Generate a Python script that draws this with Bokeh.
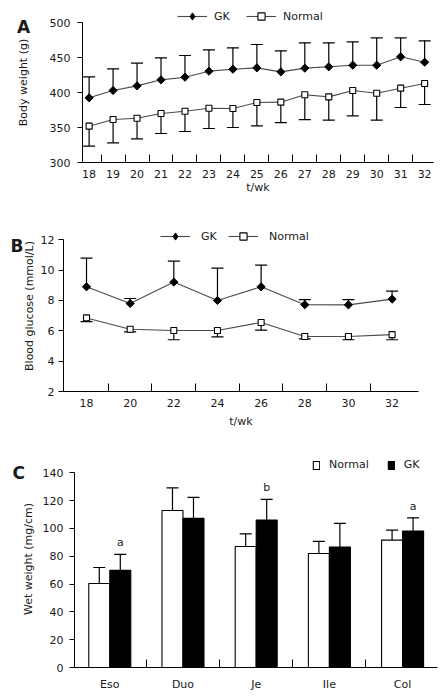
import numpy as np
from bokeh.plotting import figure
from bokeh.models import FixedTicker, Legend, LegendItem, Label, ColumnDataSource, Range1d
from bokeh.transform import dodge
from bokeh.core.properties import value
from bokeh.embed import file_html
from bokeh.resources import INLINE

FONT = "DejaVu Sans"
TXT = "#1a1a1a"
LINE = "#4a4a4a"

# ---------------- Data ----------------
# Panel A: body weight
weeks_a = [18, 19, 20, 21, 22, 23, 24, 25, 26, 27, 28, 29, 30, 31, 32]
gk_weight = [392.4, 402.9, 409.5, 418.1, 421.9, 430.5, 433.3, 435.2, 429.5, 434.8, 436.7, 439.0, 439.0, 451.0, 443.3]
gk_weight_sd = [30.0, 30.9, 32.4, 31.4, 31.0, 30.5, 30.5, 33.4, 30.0, 36.2, 34.3, 33.4, 39.1, 27.1, 30.5]
normal_weight = [351.9, 361.4, 363.3, 370.0, 373.3, 377.5, 377.1, 385.7, 386.2, 396.7, 393.8, 402.9, 399.0, 406.2, 412.9]
normal_weight_sd = [28.6, 33.3, 29.5, 28.6, 29.0, 28.9, 27.1, 33.3, 29.1, 35.3, 33.3, 36.2, 38.5, 27.6, 30.0]
weight_ticks = [300, 350, 400, 450, 500]

# Panel B: blood glucose
weeks_b = [18, 20, 22, 24, 26, 28, 30, 32]
gk_glucose = [8.90, 7.80, 9.21, 8.00, 8.90, 7.72, 7.71, 8.09]
gk_glucose_sd = [1.89, 0.33, 1.38, 2.13, 1.43, 0.33, 0.35, 0.53]
normal_glucose = [6.85, 6.10, 6.02, 6.02, 6.55, 5.62, 5.62, 5.75]
normal_glucose_sd = [0.25, 0.17, 0.61, 0.42, 0.50, 0.15, 0.21, 0.34]
glucose_ticks = [2, 4, 6, 8, 10, 12]

# Panel C: wet weight
segments = ["Eso", "Duo", "Je", "Ile", "Col"]
normal_wet = [60.4, 112.9, 87.0, 82.0, 91.6]
normal_wet_sd = [11.5, 16.3, 9.1, 8.6, 7.2]
gk_wet = [69.8, 107.2, 106.0, 86.6, 98.1]
gk_wet_sd = [11.5, 15.1, 14.8, 17.0, 9.5]
significance = ["a", "", "b", "", "a"]
wet_ticks = [0, 20, 40, 60, 80, 100, 120, 140]


def base_style(p):
    p.outline_line_color = None
    p.xgrid.grid_line_color = None
    p.ygrid.grid_line_color = None
    p.background_fill_color = "white"
    p.border_fill_color = "white"
    for ax in (p.xaxis[0], p.yaxis[0]):
        ax.axis_line_color = "black"
        ax.axis_line_width = 1
        ax.major_label_text_font = FONT
        ax.major_label_text_font_size = "11px"
        ax.major_label_text_color = TXT
        ax.axis_label_text_font = FONT
        ax.axis_label_text_font_size = "11px"
        ax.axis_label_text_font_style = "normal"
        ax.axis_label_text_color = TXT
    y = p.yaxis[0]
    y.major_tick_in = 0
    y.major_tick_out = 5
    y.major_tick_line_color = "black"
    y.minor_tick_line_color = None
    y.major_label_standoff = 6
    x = p.xaxis[0]
    x.major_tick_in = 0
    x.major_tick_out = 0
    x.major_tick_line_color = None
    x.minor_tick_in = 8
    x.minor_tick_out = 0
    x.minor_tick_line_color = "black"
    x.major_label_standoff = 7


def panel_letter(p, letter, x, y):
    # placed in the left side panel so it is not clipped to the plot frame
    p.add_layout(Label(x=x, y=y, text=letter,
                       text_font=FONT, text_font_size="17px", text_font_style="bold",
                       text_color=TXT, text_baseline="alphabetic", text_align="left"), "left")


def line_panel(p, xs, gk, gk_sd, nm, nm_sd, msize):
    xs = np.array(xs, dtype=float)
    gk = np.array(gk); gk_sd = np.array(gk_sd)
    nm = np.array(nm); nm_sd = np.array(nm_sd)
    # error bars (GK up, Normal down)
    p.segment(x0=xs, y0=gk, x1=xs, y1=gk + gk_sd, line_color="black", line_width=1.2)
    p.scatter(xs, gk + gk_sd, marker="dash", size=12, line_color="black", line_width=1.2)
    p.segment(x0=xs, y0=nm, x1=xs, y1=nm - nm_sd, line_color="black", line_width=1.2)
    p.scatter(xs, nm - nm_sd, marker="dash", size=12, line_color="black", line_width=1.2)
    gl = p.line(xs, gk, line_color=LINE, line_width=1.1)
    nl = p.line(xs, nm, line_color=LINE, line_width=1.1)
    p.scatter(xs, gk, marker="square", angle=np.pi / 4, size=msize,
              fill_color="black", line_color="black")
    nmk = p.scatter(xs, nm, marker="square", size=6, fill_color="white",
                    line_color="black", line_width=1.1)
    # legend-only diamond key (legend glyphs ignore marker rotation); draws nothing in the plot
    gleg = p.scatter(x=[np.nan], y=[np.nan], marker="diamond", fill_color="black", line_color="black")
    return gl, gleg, nl, nmk


def make_line_legend(loc, standoff, spacing, items):
    return Legend(items=items, location=loc, orientation="horizontal",
                  glyph_width=30, glyph_height=18, label_height=18,
                  label_standoff=standoff, spacing=spacing, padding=0, margin=0,
                  border_line_color=None, background_fill_alpha=0,
                  label_text_font=FONT, label_text_font_size="11px", label_text_color=TXT)


# ---------------- Panel A ----------------
pA = figure(width=448, height=200, x_range=Range1d(17.724, 32.37), y_range=Range1d(300, 528.6),
            output_backend="svg", toolbar_location=None,
            min_border_left=78, min_border_right=15, min_border_top=2, min_border_bottom=38)
base_style(pA)
gl, gm, nl, nmk = line_panel(pA, weeks_a, gk_weight, gk_weight_sd, normal_weight, normal_weight_sd, 5.8)
pA.yaxis.ticker = FixedTicker(ticks=weight_ticks)
pA.yaxis.bounds = (300, 500)
pA.yaxis.major_label_standoff = 7
pA.yaxis.axis_label = "Body weight (g)"
pA.yaxis.axis_label_standoff = 17
pA.xaxis.ticker = FixedTicker(ticks=weeks_a, minor_ticks=[w + 0.5 for w in weeks_a[:-1]])
pA.xaxis.axis_label = "t/wk"
pA.xaxis.axis_label_standoff = 0
pA.add_layout(make_line_legend((95, 137), 7, 12,
                               [LegendItem(label="GK", renderers=[gl, gm]),
                                LegendItem(label="Normal", renderers=[nl, nmk])]))
panel_letter(pA, "A", 14.99, 493.3)

# ---------------- Panel B ----------------
pB = figure(width=448, height=230, x_range=Range1d(16.946, 33.21), y_range=Range1d(2, 13.27),
            output_backend="svg", toolbar_location=None,
            min_border_left=63, min_border_right=30, min_border_top=20, min_border_bottom=39)
base_style(pB)
gl2, gm2, nl2, nmk2 = line_panel(pB, weeks_b, gk_glucose, gk_glucose_sd, normal_glucose, normal_glucose_sd, 5.8)
pB.yaxis.ticker = FixedTicker(ticks=glucose_ticks)
pB.yaxis.bounds = (2, 12)
pB.yaxis.major_label_standoff = 4
pB.yaxis.axis_label = "Blood glucose (mmol/L)"
pB.yaxis.axis_label_standoff = 2
pB.xaxis.ticker = FixedTicker(ticks=weeks_b, minor_ticks=[w + 1 for w in weeks_b[:-1]])
pB.xaxis.axis_label = "t/wk"
pB.xaxis.axis_label_standoff = 5
pB.add_layout(make_line_legend((97, 146), 11, 7,
                               [LegendItem(label="GK", renderers=[gl2, gm2]),
                                LegendItem(label="Normal", renderers=[nl2, nmk2])]))
panel_letter(pB, "B", 14.52, 11.62)

# ---------------- Panel C ----------------
idx = list(range(len(segments)))
src = ColumnDataSource(dict(
    x=idx, normal=normal_wet, gk=gk_wet,
    normal_top=[v + s for v, s in zip(normal_wet, normal_wet_sd)],
    gk_top=[v + s for v, s in zip(gk_wet, gk_wet_sd)],
    sig=significance,
))
BW = 0.287
OFF = BW / 2
pC = figure(width=448, height=268, x_range=Range1d(-0.482, 4.477), y_range=Range1d(0, 156),
            output_backend="svg", toolbar_location=None,
            min_border_left=74, min_border_right=11, min_border_top=20, min_border_bottom=31)
base_style(pC)
pC.segment(x0=dodge("x", -OFF), y0="normal", x1=dodge("x", -OFF), y1="normal_top", source=src,
           line_color="black", line_width=1.2)
pC.scatter(x=dodge("x", -OFF), y="normal_top", source=src, marker="dash", size=12,
           line_color="black", line_width=1.2)
pC.segment(x0=dodge("x", OFF), y0="gk", x1=dodge("x", OFF), y1="gk_top", source=src,
           line_color="black", line_width=1.2)
pC.scatter(x=dodge("x", OFF), y="gk_top", source=src, marker="dash", size=12,
           line_color="black", line_width=1.2)
vn = pC.vbar(x=dodge("x", -OFF), top="normal", width=BW, source=src,
             fill_color="white", line_color="black", line_width=1.1)
vg = pC.vbar(x=dodge("x", OFF), top="gk", width=BW, source=src,
             fill_color="black", line_color="black", line_width=1.1)
pC.text(x=dodge("x", OFF), y="gk_top", text="sig", source=src, y_offset=-5,
        text_align="center", text_baseline="bottom", text_font=value(FONT),
        text_font_size="11px", text_color=TXT)
pC.yaxis.ticker = FixedTicker(ticks=wet_ticks)
pC.yaxis.bounds = (0, 140)
pC.yaxis.axis_label = "Wet weight (mg/cm)"
pC.yaxis.axis_label_standoff = 5
pC.xaxis.ticker = FixedTicker(ticks=idx, minor_ticks=[i + 0.5 for i in idx[:-1]])
pC.xaxis.major_label_overrides = {i: s for i, s in zip(idx, segments)}
pC.xaxis.major_label_standoff = 10
legC = Legend(items=[LegendItem(label="Normal", renderers=[vn]),
                     LegendItem(label="GK", renderers=[vg])],
              location=(238, 196), orientation="horizontal", glyph_width=8, glyph_height=10,
              label_height=10, label_standoff=9, spacing=18, padding=0, margin=0,
              border_line_color=None, background_fill_alpha=0,
              label_text_font=FONT, label_text_font_size="11px", label_text_color=TXT)
pC.add_layout(legC)
panel_letter(pC, "C", -1.329, 139.6)

# separate roots: each panel keeps its own frame borders (no cross-panel alignment)
open("out.html", "w").write(file_html([pA, pB, pC], INLINE))
